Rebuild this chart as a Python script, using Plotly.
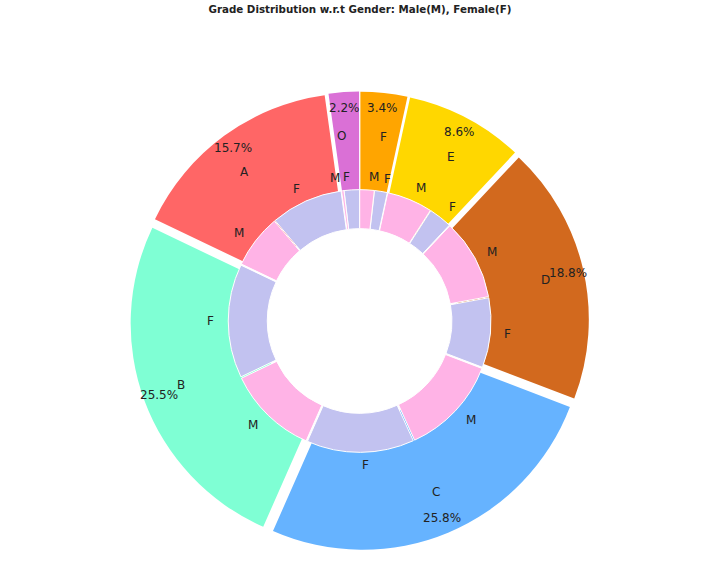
import math
import plotly.graph_objects as go

# ---------------- data ----------------
grades = ["O", "A", "B", "C", "D", "E", "F"]
grade_pct = [2.2, 15.7, 25.5, 25.8, 18.8, 8.6, 3.4]
grade_colors = ["#da70d6", "#ff6666", "#7fffd4", "#66b3ff", "#d2691e", "#ffd700", "#ffa500"]

gender_labels = ["F", "M", "F", "M", "F", "M", "F", "M", "F", "M", "F", "M", "F", "M"]
gender_pct = [1.9, 0.3, 9.0, 6.7, 14.2, 11.3, 13.4, 12.4, 8.7, 10.1, 2.9, 5.7, 1.6, 1.8]
gender_colors = ["#c2c2f0", "#ffb3e6"] * 7

title_text = "Grade Distribution w.r.t Gender: Male(M), Female(F)"

# ---------------- geometry (pixels) ----------------
W, H = 720, 578
CX, CY = 359.6, 321.0
R_OUT = 222.0
PULL_OUT = 7.4 / R_OUT
R_IN = 129.5
PULL_IN = 1.85 / R_IN
HOLE_IN = 90.5 / R_IN
HOLE_OUT = 0.41
TEXT_COLOR = "#222222"
FONT = "DejaVu Sans"


def domain(r, pull):
    half = r * (1 + pull)
    return dict(x=[(CX - half) / W, (CX + half) / W],
                y=[1 - (CY + half) / H, 1 - (CY - half) / H])


def mid_angles(values):
    total = float(sum(values))
    out, cum = [], 0.0
    for v in values:
        out.append(math.radians(90 + 360 * (cum + v / 2) / total))
        cum += v
    return out


def first_rotation(values):
    # plotly's counterclockwise pie puts the first slice clockwise of 12 o'clock;
    # rotate so that it starts at 12 o'clock and runs counterclockwise
    return -360.0 * values[0] / sum(values)


def to_paper(px, py):
    return px / W, 1 - py / H


fig = go.Figure()
fig.add_trace(go.Pie(
    labels=grades, values=grade_pct, sort=False, direction="counterclockwise",
    rotation=first_rotation(grade_pct), hole=HOLE_OUT, pull=[PULL_OUT] * len(grades),
    marker=dict(colors=grade_colors, line=dict(width=0)),
    textinfo="none", hoverinfo="skip", showlegend=False,
    domain=domain(R_OUT, PULL_OUT),
))
fig.add_trace(go.Pie(
    labels=[f"{g}-{s}" for g in grades for s in ("F", "M")], values=gender_pct,
    sort=False, direction="counterclockwise",
    rotation=first_rotation(gender_pct), hole=HOLE_IN, pull=[PULL_IN] * len(gender_pct),
    marker=dict(colors=gender_colors, line=dict(width=1, color="white")),
    textinfo="none", hoverinfo="skip", showlegend=False,
    domain=domain(R_IN, PULL_IN),
))

annotations = []
total = sum(grade_pct)
for lab, v, th in zip(grades, grade_pct, mid_angles(grade_pct)):
    ox = CX + PULL_OUT * R_OUT * math.cos(th)
    oy = CY - PULL_OUT * R_OUT * math.sin(th)
    lx = ox + 0.80 * R_OUT * math.cos(th)
    ly = oy - 0.80 * R_OUT * math.sin(th)
    x, y = to_paper(lx, ly)
    annotations.append(dict(x=x, y=y, xref="paper", yref="paper", text=lab,
                            showarrow=False, xanchor="left" if math.cos(th) > 0 else "right",
                            yanchor="middle", borderpad=0,
                            font=dict(family=FONT, size=12, color=TEXT_COLOR)))
    px = ox + 0.93 * R_OUT * math.cos(th)
    py = oy - 0.93 * R_OUT * math.sin(th)
    x, y = to_paper(px, py)
    annotations.append(dict(x=x, y=y, xref="paper", yref="paper",
                            text=f"{100 * v / total:.1f}%",
                            showarrow=False, xanchor="center", yanchor="middle", borderpad=0,
                            font=dict(family=FONT, size=12, color=TEXT_COLOR)))

for lab, th in zip(gender_labels, mid_angles(gender_pct)):
    ox = CX + PULL_IN * R_IN * math.cos(th)
    oy = CY - PULL_IN * R_IN * math.sin(th)
    lx = ox + 1.1 * R_IN * math.cos(th)
    ly = oy - 1.1 * R_IN * math.sin(th)
    x, y = to_paper(lx, ly)
    annotations.append(dict(x=x, y=y, xref="paper", yref="paper", text=lab,
                            showarrow=False, xanchor="left" if math.cos(th) > 0 else "right",
                            yanchor="middle", borderpad=0,
                            font=dict(family=FONT, size=12, color=TEXT_COLOR)))

fig.update_layout(
    width=W, height=H,
    margin=dict(l=0, r=0, t=0, b=0),
    paper_bgcolor="white", plot_bgcolor="white",
    title=dict(text=title_text, x=0.5, xanchor="center", xref="paper",
               y=1 - 9 / H, yanchor="middle", yref="container",
               font=dict(family=FONT, size=10.3, color=TEXT_COLOR, weight="bold")),
    annotations=annotations,
)

fig.write_html("out.html",
               config={"displayModeBar": False},
               post_script="document.body.style.margin='0';document.body.style.overflow='hidden';")
